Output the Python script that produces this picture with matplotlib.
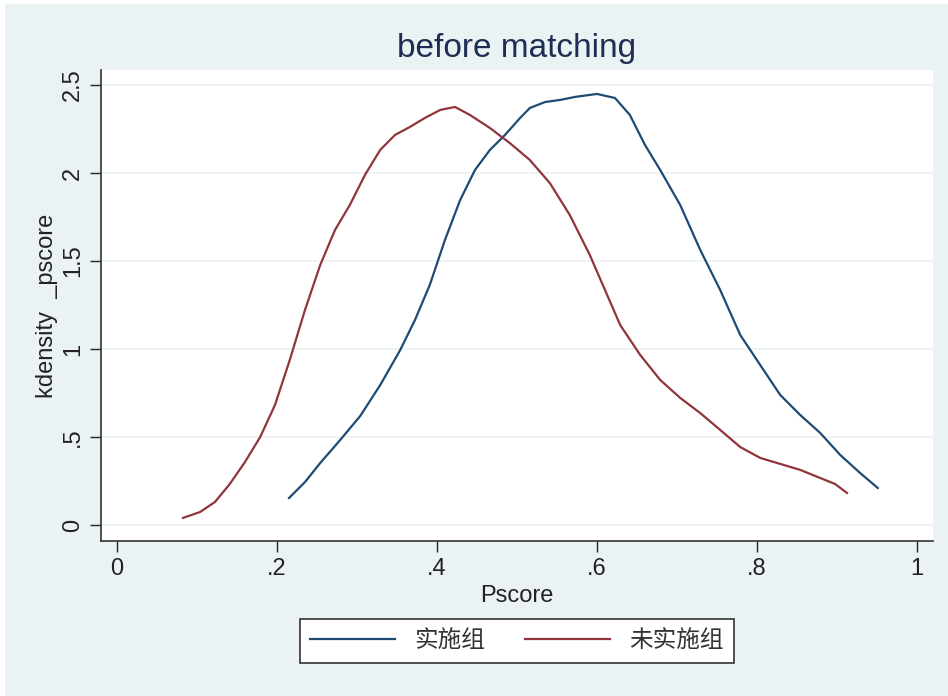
import numpy as np
import matplotlib.pyplot as plt
from matplotlib.patches import Rectangle

# treated group (实施组)
treat_x = [0.215, 0.235, 0.254, 0.279, 0.304, 0.329, 0.354, 0.3725, 0.391, 0.41,
           0.429, 0.4475, 0.466, 0.485, 0.504, 0.516, 0.535, 0.554, 0.5725, 0.6,
           0.6225, 0.641, 0.66, 0.679, 0.704, 0.729, 0.754, 0.779, 0.804, 0.829,
           0.854, 0.879, 0.904, 0.929, 0.951]
treat_y = [0.153, 0.244, 0.352, 0.483, 0.619, 0.795, 0.994, 1.165, 1.364, 1.62,
           1.847, 2.017, 2.13, 2.216, 2.313, 2.369, 2.403, 2.415, 2.432, 2.449,
           2.426, 2.33, 2.159, 2.017, 1.818, 1.563, 1.335, 1.08, 0.909, 0.739,
           0.625, 0.523, 0.398, 0.295, 0.21]

# control group (未实施组)
ctrl_x = [0.0825, 0.104, 0.1225, 0.141, 0.16, 0.179, 0.1975, 0.216, 0.235, 0.254,
          0.2725, 0.291, 0.31, 0.329, 0.3475, 0.366, 0.385, 0.404, 0.4225, 0.441,
          0.466, 0.491, 0.516, 0.541, 0.566, 0.591, 0.61, 0.629, 0.654, 0.679,
          0.704, 0.729, 0.754, 0.779, 0.804, 0.829, 0.854, 0.879, 0.8975, 0.9125]
ctrl_y = [0.04, 0.074, 0.131, 0.233, 0.358, 0.5, 0.682, 0.938, 1.222, 1.477,
          1.676, 1.818, 1.989, 2.131, 2.216, 2.261, 2.313, 2.358, 2.375, 2.33,
          2.256, 2.17, 2.074, 1.943, 1.761, 1.534, 1.335, 1.136, 0.966, 0.824,
          0.722, 0.636, 0.54, 0.443, 0.381, 0.347, 0.313, 0.267, 0.233, 0.182]

xticks = [0, 0.2, 0.4, 0.6, 0.8, 1]
xlabels = ['0', '.2', '.4', '.6', '.8', '1']
yticks = [0, 0.5, 1, 1.5, 2, 2.5]
ylabels = ['0', '.5', '1', '1.5', '2', '2.5']

bg = '#EAF2F3'
plt.rcParams['font.family'] = ['Liberation Sans', 'Noto Sans CJK SC', 'DejaVu Sans']

fig = plt.figure(figsize=(9.48, 6.96), dpi=100, facecolor='white')
fig.patches.append(Rectangle((5 / 948, 0), 1, 1 - 4 / 696, transform=fig.transFigure,
                             facecolor=bg, edgecolor='none', zorder=-10))
ax = fig.add_axes([101 / 948, 1 - 541 / 696, 832 / 948, 471 / 696])
ax.set_facecolor('white')

ax.plot(treat_x, treat_y, color='#1F4A73', lw=1.6, label='实施组')
ax.plot(ctrl_x, ctrl_y, color='#90353B', lw=1.6, label='未实施组')

ax.set_xlim(-0.02, 1.02)
ax.set_ylim(-0.091, 2.585)
ax.set_xticks(xticks, xlabels)
ax.set_yticks(yticks, ylabels)
ax.tick_params(axis='y', labelrotation=90, length=8, width=1, labelsize=17,
               colors='#222222', pad=4)
ax.tick_params(axis='x', length=8, width=1, labelsize=17, colors='#222222', pad=4)
for lab in ax.get_yticklabels():
    lab.set_va('center')
ax.grid(axis='y', color=bg, lw=1.2)
ax.set_axisbelow(True)
for s in ['top', 'right']:
    ax.spines[s].set_visible(False)
for s in ['left', 'bottom']:
    ax.spines[s].set_color('#333333')
    ax.spines[s].set_linewidth(1.2)

ax.set_xlabel('Pscore', fontsize=17, color='#222222', labelpad=4)
ax.set_ylabel('kdensity  _pscore', fontsize=17, color='#222222', labelpad=3)
fig.text(517 / 948, 1 - 48 / 696, 'before matching', fontsize=24, color='#1E2D53',
         ha='center', va='center')

leg = fig.legend(loc='center', bbox_to_anchor=(517 / 948, 1 - 641 / 696), ncol=2,
                 fontsize=17, frameon=True, fancybox=False, framealpha=1,
                 handlelength=3.6, handletextpad=0.8, columnspacing=1.7,
                 borderpad=0.45, borderaxespad=0)
leg.get_frame().set_edgecolor('#333333')
leg.get_frame().set_linewidth(1.2)
for t in leg.get_texts():
    t.set_color('#333333')

fig.savefig('out.png', dpi=100, facecolor=fig.get_facecolor())
